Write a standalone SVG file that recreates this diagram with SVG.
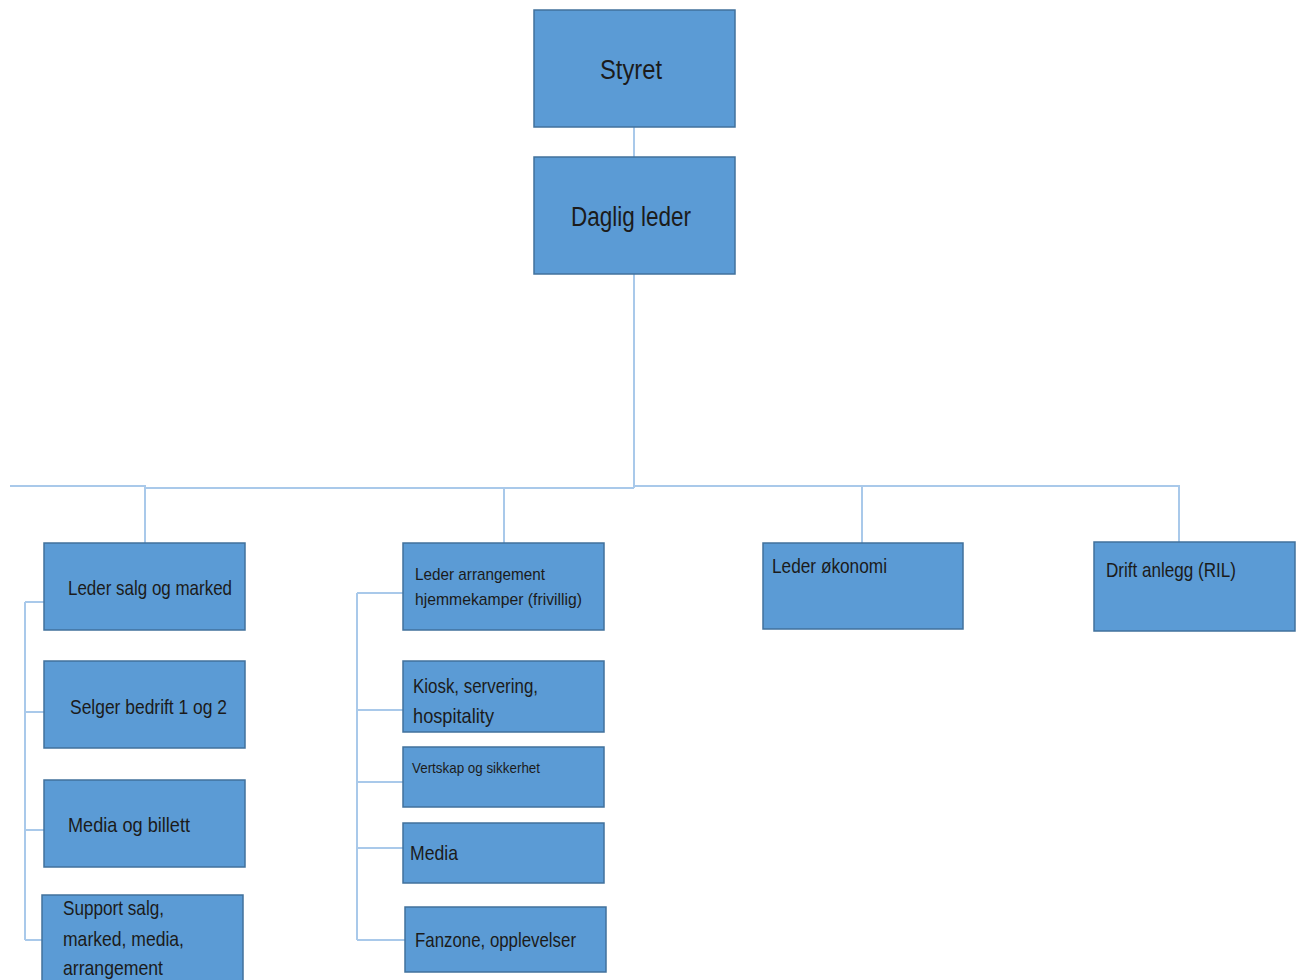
<svg xmlns="http://www.w3.org/2000/svg" width="1300" height="980" viewBox="0 0 1300 980">
<style>
.box{fill:#5B9BD5;stroke:#41719C;stroke-width:1.5}
.ln{fill:none;stroke:#A9C9EA;stroke-width:2}
text{font-family:"Liberation Sans Narrow","Liberation Sans",Arial,sans-serif;fill:#1b1b1b}
.big{font-size:27px}
.md{font-size:21px}
.sm{font-size:17px}
.xs{font-size:15px}
</style>
<rect width="1300" height="980" fill="#ffffff"/>
<g id="connectors">
<path class="ln" d="M634,127 V157"/>
<path class="ln" d="M634,274 V488"/>
<path class="ln" d="M10,486 H145 V543"/>
<path class="ln" d="M145,488 H634"/>
<path class="ln" d="M634,486 H1179 V543"/>
<path class="ln" d="M504,488 V543"/>
<path class="ln" d="M862,486 V543"/>
<path class="ln" d="M25,602 V940"/>
<path class="ln" d="M25,602 H44 M25,712 H44 M25,830 H44 M25,940 H42"/>
<path class="ln" d="M357,593 V940"/>
<path class="ln" d="M357,593 H403 M357,710 H403 M357,782 H403 M357,848 H403 M357,940 H405"/>
</g>
<g id="styret"><rect class="box" x="534" y="10" width="201" height="117"/><text class="big" x="631" y="79" text-anchor="middle" textLength="62" lengthAdjust="spacingAndGlyphs">Styret</text></g>
<g id="daglig-leder"><rect class="box" x="534" y="157" width="201" height="117"/><text class="big" x="631" y="226" text-anchor="middle" textLength="120" lengthAdjust="spacingAndGlyphs">Daglig leder</text></g>
<g id="leder-salg"><rect class="box" x="44" y="543" width="201" height="87"/><text class="md" x="68" y="595" textLength="164" lengthAdjust="spacingAndGlyphs">Leder salg og marked</text></g>
<g id="selger"><rect class="box" x="44" y="661" width="201" height="87"/><text class="md" x="70" y="714" textLength="157" lengthAdjust="spacingAndGlyphs">Selger bedrift 1 og 2</text></g>
<g id="media-billett"><rect class="box" x="44" y="780" width="201" height="87"/><text class="md" x="68" y="832" textLength="122" lengthAdjust="spacingAndGlyphs">Media og billett</text></g>
<g id="support"><rect class="box" x="42" y="895" width="201" height="90"/><text class="md" x="63" y="915" textLength="101" lengthAdjust="spacingAndGlyphs">Support salg,</text><text class="md" x="63" y="946" textLength="121" lengthAdjust="spacingAndGlyphs">marked, media,</text><text class="md" x="63" y="975" textLength="100" lengthAdjust="spacingAndGlyphs">arrangement</text></g>
<g id="leder-arrangement"><rect class="box" x="403" y="543" width="201" height="87"/><text class="sm" x="415" y="580" textLength="130" lengthAdjust="spacingAndGlyphs">Leder arrangement</text><text class="sm" x="415" y="605" textLength="167" lengthAdjust="spacingAndGlyphs">hjemmekamper (frivillig)</text></g>
<g id="kiosk"><rect class="box" x="403" y="661" width="201" height="71"/><text class="md" x="413" y="693" textLength="125" lengthAdjust="spacingAndGlyphs">Kiosk, servering,</text><text class="md" x="413" y="723" textLength="81" lengthAdjust="spacingAndGlyphs">hospitality</text></g>
<g id="vertskap"><rect class="box" x="403" y="747" width="201" height="60"/><text class="xs" x="412" y="773" textLength="128" lengthAdjust="spacingAndGlyphs">Vertskap og sikkerhet</text></g>
<g id="media"><rect class="box" x="403" y="823" width="201" height="60"/><text class="md" x="410" y="860" textLength="48" lengthAdjust="spacingAndGlyphs">Media</text></g>
<g id="fanzone"><rect class="box" x="405" y="907" width="201" height="65"/><text class="md" x="415" y="947" textLength="161" lengthAdjust="spacingAndGlyphs">Fanzone, opplevelser</text></g>
<g id="leder-okonomi"><rect class="box" x="763" y="543" width="200" height="86"/><text class="md" x="772" y="573" textLength="115" lengthAdjust="spacingAndGlyphs">Leder økonomi</text></g>
<g id="drift-anlegg"><rect class="box" x="1094" y="542" width="201" height="89"/><text class="md" x="1106" y="577" textLength="130" lengthAdjust="spacingAndGlyphs">Drift anlegg (RIL)</text></g>
</svg>
